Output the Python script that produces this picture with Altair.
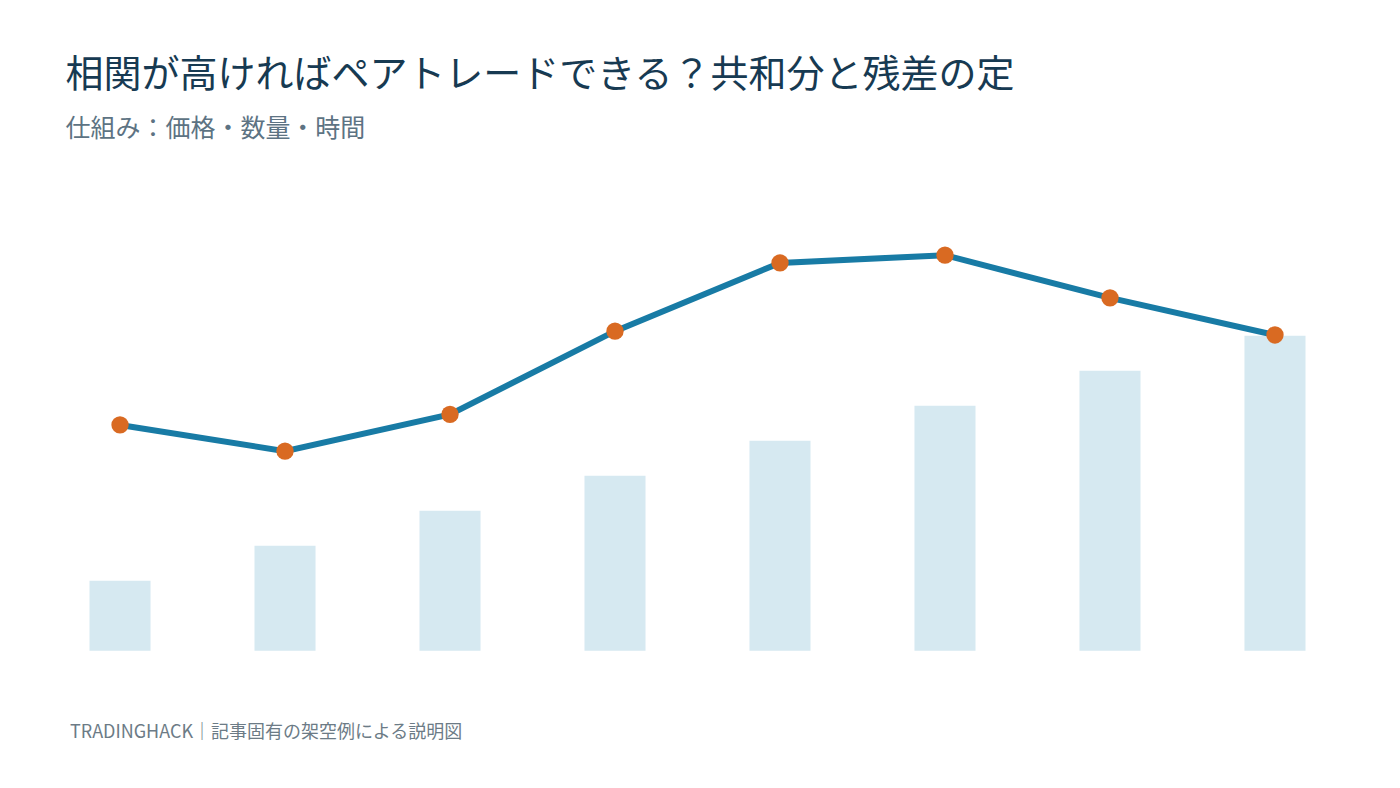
"""
Pair-trading illustration: a rising bar series with a line of a related price.
"""

import altair as alt
import pandas as pd

steps = [1, 2, 3, 4, 5, 6, 7, 8]
bar_values = [2.0, 3.0, 4.0, 5.0, 6.0, 7.0, 8.0, 9.0]
line_values = [6.45, 5.70, 6.75, 9.13, 11.08, 11.30, 10.08, 9.02]

title = "相関が高ければペアトレードできる？共和分と残差の定"
subtitle = "仕組み：価格・数量・時間"
footer = "TRADINGHACK｜記事固有の架空例による説明図"

font = "Noto Sans CJK JP"

data = pd.DataFrame({"step": steps, "bar": bar_values, "line": line_values})

x = alt.X(
    "step:O",
    axis=None,
    scale=alt.Scale(paddingInner=0.63, paddingOuter=0.315),
)
y_scale = alt.Scale(domain=[0, 13], nice=False, zero=True)

base = alt.Chart(data)

bars = base.mark_bar(color="#d6e9f1").encode(
    x=x,
    y=alt.Y("bar:Q", axis=None, scale=y_scale),
)

line = base.mark_line(color="#187ba5", strokeWidth=6).encode(
    x=x,
    y=alt.Y("line:Q", axis=None, scale=y_scale),
)

points = base.mark_circle(color="#d96a22", opacity=1, size=300).encode(
    x=x,
    y=alt.Y("line:Q", axis=None, scale=y_scale),
)

foot = (
    alt.Chart(pd.DataFrame({"t": [footer]}))
    .mark_text(
        align="left",
        baseline="middle",
        font=font,
        fontSize=18,
        color="#6c7b86",
    )
    .encode(text="t:N", x=alt.value(32.5), y=alt.value(537))
)

chart = (
    alt.layer(bars, line, points, foot)
    .properties(
        width=1320,
        height=455,
        autosize=alt.AutoSizeParams(type="none"),
        padding={"left": 29.5, "top": 187.7, "right": 26, "bottom": 120},
        background="white",
        title=alt.TitleParams(
            text=title,
            subtitle=subtitle,
            anchor="start",
            dx=28,
            offset=54,
            font=font,
            fontSize=38,
            fontWeight="normal",
            color="#173a52",
            subtitleFont=font,
            subtitleFontSize=25,
            subtitleColor="#5d7383",
            subtitlePadding=22,
        ),
    )
    .configure_view(stroke=None)
)

chart.save("out.html", embed_options={"renderer": "svg", "actions": False})
